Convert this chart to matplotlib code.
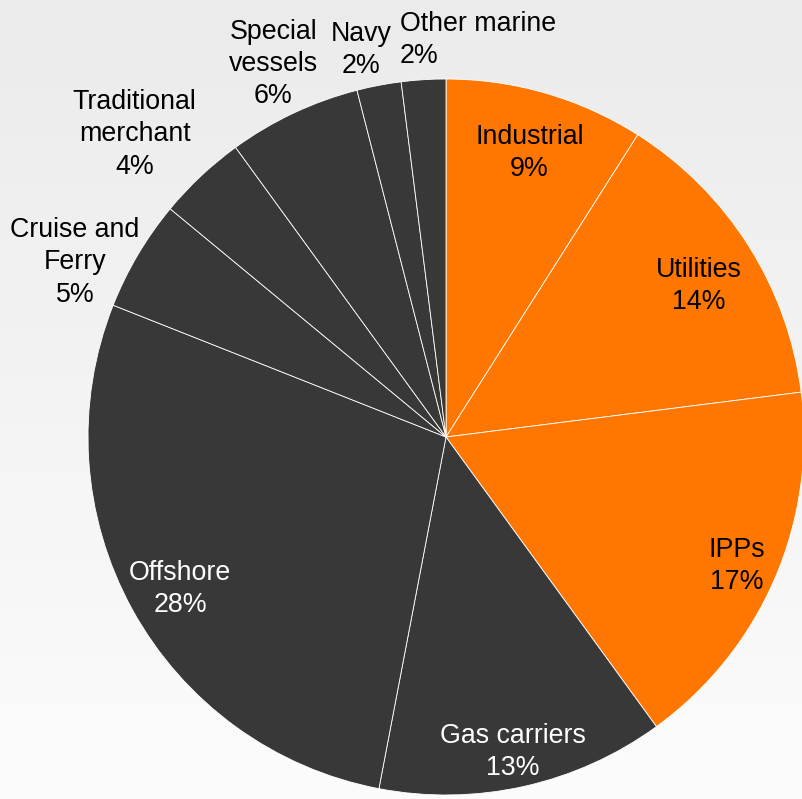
import numpy as np
import matplotlib
matplotlib.use("Agg")
import matplotlib.pyplot as plt

# Engine demand share by segment
segments = ["Industrial", "Utilities", "IPPs", "Gas carriers", "Offshore",
            "Cruise and\nFerry", "Traditional\nmerchant", "Special\nvessels",
            "Navy", "Other marine"]
shares = [9, 14, 17, 13, 28, 5, 4, 6, 2, 2]

ORANGE = "#ff7700"
DARK = "#383838"
colors = [ORANGE, ORANGE, ORANGE] + [DARK] * 7

# label placement: (radial factor, angle tweak in degrees, colour, alignment)
label_style = [
    (0.835, 0.0, "black", "center"),
    (0.827, -1.0, "black", "center"),
    (0.885, 0.0, "black", "center"),
    (0.891, -0.5, "white", "center"),
    (0.852, 0.5, "white", "center"),
    (1.149, 5.0, "black", "center"),
    (1.219, 2.3, "black", "center"),
    (1.156, -0.5, "black", "center"),
    (1.115, 1.5, "black", "center"),
    (1.125, 3.0, "black", "left"),
]

W, H = 803, 799
CX, CY = 446, 437      # pie centre in pixels from top-left
R = 358
TEXT_DROP = 3          # nudge labels down so the glyph body sits centred

fig = plt.figure(figsize=(W / 100, H / 100), dpi=100)

# soft vertical background gradient
bg = fig.add_axes([0, 0, 1, 1], zorder=0)
grad = np.linspace(0, 1, 256).reshape(-1, 1)
top = np.array([0.922, 0.922, 0.922])
bottom = np.array([0.988, 0.988, 0.988])
img = top + (bottom - top) * grad[:, :, None]
bg.imshow(img, aspect="auto", extent=[0, 1, 0, 1], origin="upper")
bg.set_axis_off()

ax = fig.add_axes([0, 0, 1, 1], zorder=1)
ax.patch.set_alpha(0)

wedges, _ = ax.pie(shares, colors=colors, startangle=90, counterclock=False,
                   radius=R, center=(0, 0),
                   wedgeprops=dict(edgecolor="white", linewidth=0.6))

font = dict(family=["Liberation Sans", "DejaVu Sans"], size=19.3)
for w, name, val, (rf, dth, col, ha) in zip(wedges, segments, shares, label_style):
    mid = np.deg2rad((w.theta1 + w.theta2) / 2 + dth)
    x = rf * R * np.cos(mid)
    y = rf * R * np.sin(mid) - TEXT_DROP
    ax.text(x, y, f"{name}\n{val}%", ha=ha, va="center", color=col,
            linespacing=1.32, **font)

ax.set_xlim(-CX, W - CX)
ax.set_ylim(-(H - CY), CY)
ax.set_aspect("equal")
ax.set_axis_off()

fig.savefig("out.png", dpi=100)
